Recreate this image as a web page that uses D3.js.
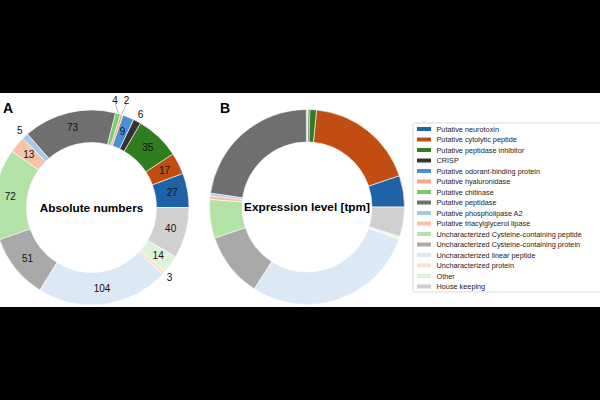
<!DOCTYPE html>
<html>
<head>
<meta charset="utf-8">
<script src="https://cdn.jsdelivr.net/npm/d3@7"></script>
<style>
  body { margin: 0; background: #000; }
  svg { display: block; font-family: "Liberation Sans", Arial, sans-serif; }
</style>
</head>
<body>
<div id="draw"></div>
<script>
// categories, counterclockwise from 3 o'clock
var categories = [
    "Putative neurotoxin", "Putative cytolytic peptide", "Putative peptidase inhibitor", "CRISP",
    "Putative odorant-binding protein", "Putative hyaluronidase", "Putative chitinase", "Putative peptidase",
    "Putative phospholipase A2", "Putative triacylglycerol lipase", "Uncharacterized Cysteine-containing peptide",
    "Uncharacterized Cysteine-containing protein", "Uncharacterized linear peptide", "Uncharacterized protein",
    "Other", "House keeping"
];
var absoluteCounts = [27, 17, 35, 6, 9, 2, 4, 73, 5, 13, 72, 51, 104, 3, 14, 40];
// expression share (% of tpm)
var expressionShare = [5.2, 18.2, 1.1, 0.28, 0.08, 0.08, 0.14, 22.6, 0.42, 0.6, 6.4, 10.7, 28.7, 0.17, 0.28, 4.9];
var colors = [
    "#1f62a5", "#c24d12", "#2f7d1f", "#333333",
    "#4a8fd8", "#f6a882", "#7ccd6c", "#6f6f6f",
    "#a7c9ee", "#f8c2a6", "#b2e2a5", "#a9a9a9",
    "#dbe8f6", "#fde1d3", "#ddf2d6", "#d0d0d0"
];

var svg = d3.select('#draw').append('svg').attr('width', 600).attr('height', 400);
svg.append('rect').attr('width', 600).attr('height', 400).attr('fill', '#000');
svg.append('rect').attr('y', 93).attr('width', 600).attr('height', 214).attr('fill', '#fff');

var outerR = 97.5, innerR = 65, labelR = 82;

// matplotlib style: start at 3 o'clock, go counterclockwise
var pie = d3.pie().sort(null)
    .startAngle(Math.PI / 2).endAngle(Math.PI / 2 - 2 * Math.PI);
var arc = d3.arc().innerRadius(innerR).outerRadius(outerR);

function drawDonut(cx, cy, values, title, letter, lx, ly, withLabels) {
    var g = svg.append('g').attr('transform', 'translate(' + cx + ',' + cy + ')');
    var arcs = pie(values);
    g.selectAll('path').data(arcs).enter().append('path')
        .attr('d', arc)
        .attr('fill', function(d, i){ return colors[i]; })
        .attr('stroke', '#fff').attr('stroke-width', 0.6);

    g.append('text').attr('text-anchor', 'middle').attr('dy', '0.35em')
        .attr('font-size', 11.8).attr('font-weight', 'bold').text(title);

    svg.append('text').attr('x', lx).attr('y', ly)
        .attr('font-size', 14).attr('font-weight', 'bold').text(letter);

    if (!withLabels) return;
    arcs.forEach(function(d, i){
        var mid = (d.startAngle + d.endAngle) / 2;
        var small = d.value < 7;
        var r = small ? 105 : labelR;
        var x = Math.sin(mid) * r, y = -Math.cos(mid) * r;
        if (d.value === 4 || d.value === 2) {
            // crowded labels get lifted and pushed apart with a leader line
            var lxp = d.value === 4 ? 23.5 : 35, lyp = -107;
            g.append('line')
                .attr('x1', Math.sin(mid) * (outerR + 1)).attr('y1', -Math.cos(mid) * (outerR + 1))
                .attr('x2', lxp).attr('y2', lyp + 3)
                .attr('stroke', '#888').attr('stroke-width', 0.6);
            x = lxp; y = lyp;
        }
        g.append('text').attr('x', x).attr('y', y)
            .attr('text-anchor', 'middle').attr('dy', '0.35em')
            .attr('font-size', 10).attr('fill', '#111')
            .text(d.value);
    });
}

drawDonut(91.5, 207.5, absoluteCounts, 'Absolute numbers', 'A', 3, 113, true);
drawDonut(307, 207, expressionShare, 'Expression level [tpm]', 'B', 220, 113, false);

// legend
var legend = svg.append('g').attr('transform', 'translate(413,123)');
legend.append('rect').attr('width', 200).attr('height', 169).attr('rx', 2)
    .attr('fill', '#fff').attr('stroke', '#d0d0d0').attr('stroke-width', 0.8);
var item = legend.selectAll('g.item').data(categories).enter().append('g')
    .attr('class', 'item')
    .attr('transform', function(d, i){ return 'translate(0,' + (6 + i * 10.5) + ')'; });
item.append('rect').attr('x', 4).attr('y', -2).attr('width', 14).attr('height', 4)
    .attr('fill', function(d, i){ return colors[i]; });
item.append('text').attr('x', 23.5).attr('dy', '0.35em')
    .attr('font-size', 7.3).attr('fill', '#222').text(function(d){ return d; });
</script>
</body>
</html>
